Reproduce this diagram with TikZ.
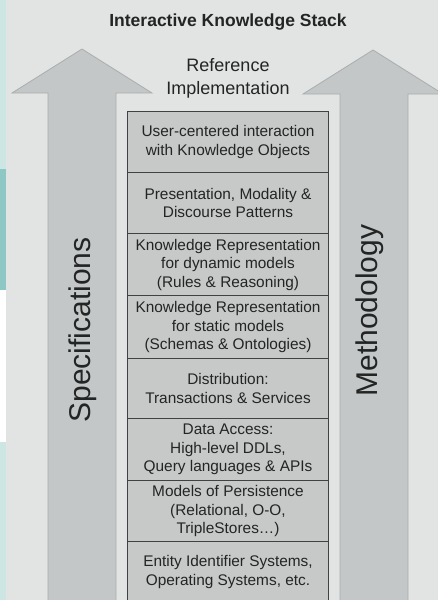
\documentclass[tikz,border=0pt]{standalone}
\usepackage{fontspec}
\setmainfont{Liberation Sans}
\definecolor{bg}{HTML}{E1E4E3}
\definecolor{arrowfill}{HTML}{C4C7C7}
\definecolor{arrowline}{HTML}{AAADAD}
\definecolor{cellfill}{HTML}{C6C9C8}
\definecolor{cellline}{HTML}{3E4242}
\definecolor{txt}{HTML}{232525}
\definecolor{tealL}{HTML}{CDE5E3}
\definecolor{tealD}{HTML}{8DC8C5}
\tikzset{
  cell/.style={draw=cellline, line width=1.4pt, fill=cellfill, anchor=north,
    minimum width=201pt, inner sep=0pt, align=center, text=txt,
    font=\fontsize{15.4}{18.5}\selectfont},
  bigarrow/.style={fill=arrowfill, draw=arrowline, line width=0.8pt},
  sidelabel/.style={rotate=90, anchor=base, text=txt, font=\fontsize{30}{36}\selectfont},
}
\begin{document}
\begin{tikzpicture}[x=1pt,y=-1pt]
\useasboundingbox (0,0) rectangle (438,600);
\clip (0,0) rectangle (438,600);
\fill[bg] (0,0) rectangle (438,600);
% left strip
\fill[tealL] (0,0) rectangle (6,169);
\fill[tealD] (0,169) rectangle (6,290);
\fill[white] (0,290) rectangle (6,442);
\fill[tealL] (0,442) rectangle (6,600);
% arrows
\draw[bigarrow] (48,605) -- (48,93) -- (12,93) -- (82,49) -- (152,93) -- (116,93) -- (116,605) -- cycle;
\draw[bigarrow] (340,605) -- (340,94) -- (303,94) -- (373,50) -- (443,94) -- (408,94) -- (408,605) -- cycle;
% titles
\node[font=\bfseries\fontsize{17.5}{20}\selectfont, text=txt] (title) at (228,22) {Interactive Knowledge Stack};
\node[font=\fontsize{18}{21}\selectfont, text=txt] (ref) at (228,65) {Reference};
\node[font=\fontsize{18}{21}\selectfont, text=txt] (impl) at (228,90) {Implementation};
% side labels
\node[sidelabel] (spec) at (90,330) {Specifications};
\node[sidelabel] (meth) at (377,310.5) {Methodology};
% stack
\node[cell, minimum height=61pt] (c1) at (228,111) {User-centered interaction\\with Knowledge Objects};
\node[cell, minimum height=61pt] (c2) at (228,172) {Presentation, Modality \&\\Discourse Patterns};
\node[cell, minimum height=62pt] (c3) at (228,233) {Knowledge Representation\\for dynamic models\\(Rules \& Reasoning)};
\node[cell, minimum height=63pt] (c4) at (228,295) {Knowledge Representation\\for static models\\(Schemas \& Ontologies)};
\node[cell, minimum height=60pt] (c5) at (228,358) {Distribution:\\Transactions \& Services};
\node[cell, minimum height=62pt] (c6) at (228,418) {Data Access:\\High-level DDLs,\\Query languages \& APIs};
\node[cell, minimum height=61pt] (c7) at (228,480) {Models of Persistence\\(Relational, O-O,\\TripleStores…)};
\node[cell, minimum height=61pt] (c8) at (228,541) {Entity Identifier Systems,\\Operating Systems, etc.};
\end{tikzpicture}
\end{document}
